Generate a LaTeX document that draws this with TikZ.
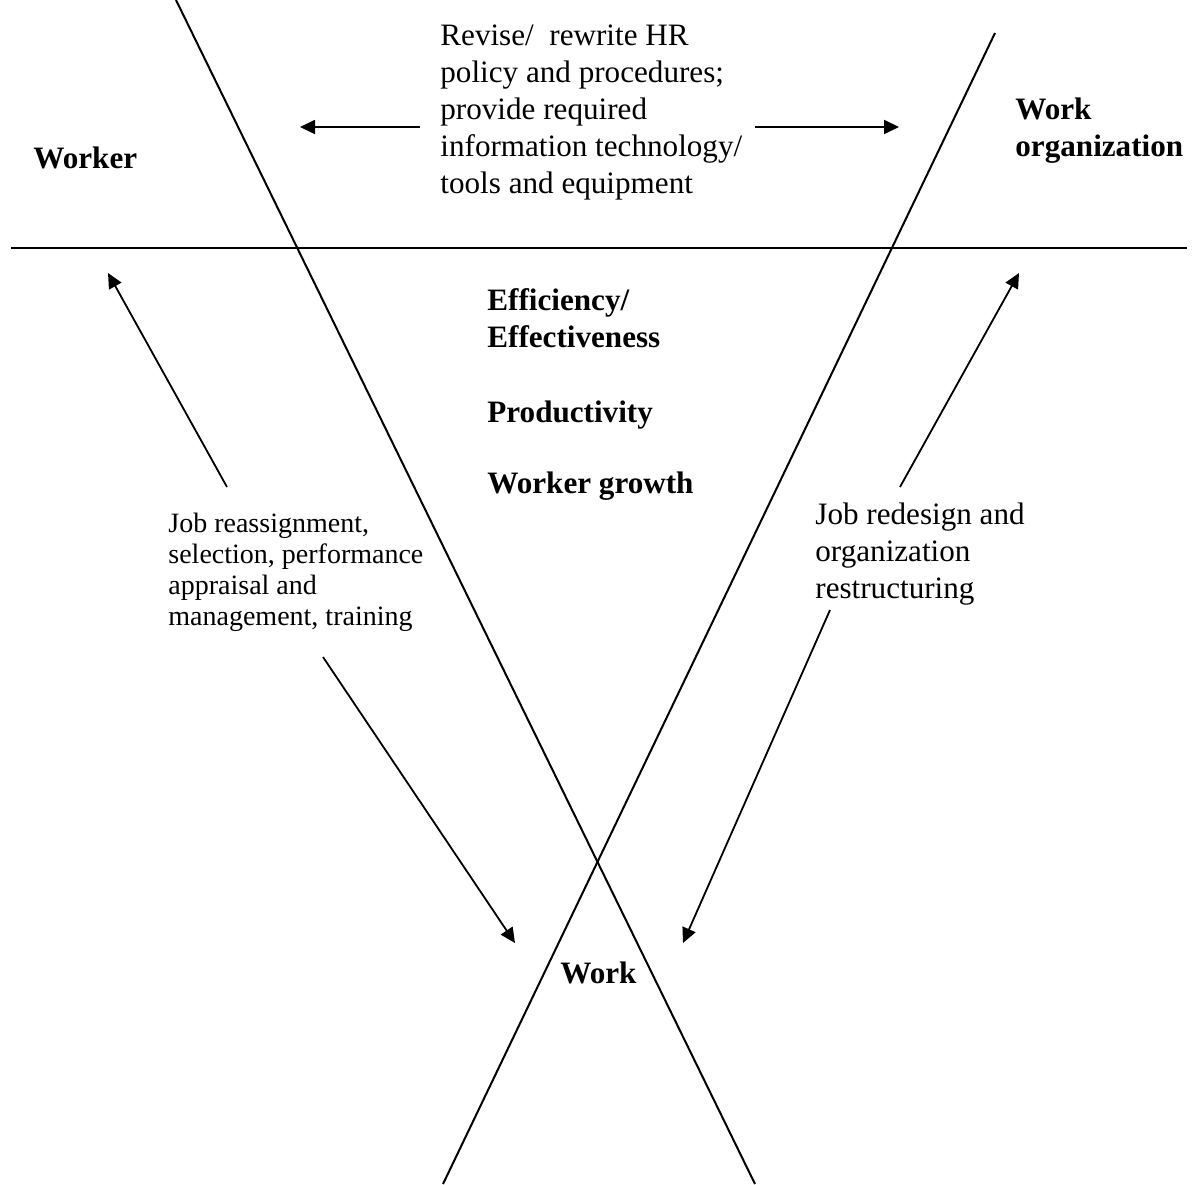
\documentclass[tikz,border=0pt]{standalone}
\usepackage{fontspec}
\setmainfont{Liberation Serif}
\usetikzlibrary{arrows.meta}
\begin{document}
\begin{tikzpicture}[x=0.5pt,y=-0.5pt,
  axis/.style={line width=1pt},
  conn/.style={line width=0.9pt,-{Triangle[length=7.5pt,width=7pt]}},
  big/.style={font=\fontsize{15.57}{18.4}\selectfont, inner sep=0pt, align=left, anchor=base west},
  bigb/.style={inner sep=0pt, align=left, anchor=base west, font=\fontsize{15.57}{18.5}\selectfont\bfseries},
  small/.style={font=\fontsize{14}{15.35}\selectfont, inner sep=0pt, align=left, anchor=base west}]
\useasboundingbox (0,0) rectangle (1199,1184);
% main lines
\coordinate (l1a) at (176,0);
\coordinate (l1b) at (755,1184);
\coordinate (l2a) at (995,33);
\coordinate (l2b) at (443,1184);
\coordinate (ha) at (11,248);
\coordinate (hb) at (1187,248);
\draw[axis] (l1a) -- (l1b);
\draw[axis] (l2a) -- (l2b);
\draw[axis] (ha) -- (hb);
% texts (anchored at the baseline of their last line)
\node[big] (hr) at (440,193) {Revise/\ \ rewrite HR\\policy and procedures;\\provide required\\information technology/\\tools and equipment};
\node[bigb] (worker) at (33,168) {Worker};
\node[bigb] (org) at (1015,156) {Work\\organization};
\node[bigb] (eff) at (487,347) {Efficiency/\\Effectiveness};
\node[bigb] (prod) at (487,422) {Productivity};
\node[bigb] (growth) at (487,493) {Worker growth};
\node[small] (hrm) at (168,625) {Job reassignment,\\selection, performance\\appraisal and\\management, training};
\node[big] (jr) at (815,598) {Job redesign and\\organization\\restructuring};
\node[bigb] (work) at (560,983) {Work};
% arrow ends
\coordinate (a1s) at (420,127);
\coordinate (a1e) at (300,127);
\coordinate (a2s) at (755,127);
\coordinate (a2e) at (899,127);
\coordinate (a3s) at (227,487);
\coordinate (a3e) at (108,273);
\coordinate (a4s) at (900,487);
\coordinate (a4e) at (1019,273);
\coordinate (a5s) at (323,657);
\coordinate (a5e) at (515,943);
\coordinate (a6s) at (830,610);
\coordinate (a6e) at (683,943);
\draw[conn] (a1s) -- (a1e);
\draw[conn] (a2s) -- (a2e);
\draw[conn] (a3s) -- (a3e);
\draw[conn] (a4s) -- (a4e);
\draw[conn] (a5s) -- (a5e);
\draw[conn] (a6s) -- (a6e);
\end{tikzpicture}
\end{document}
